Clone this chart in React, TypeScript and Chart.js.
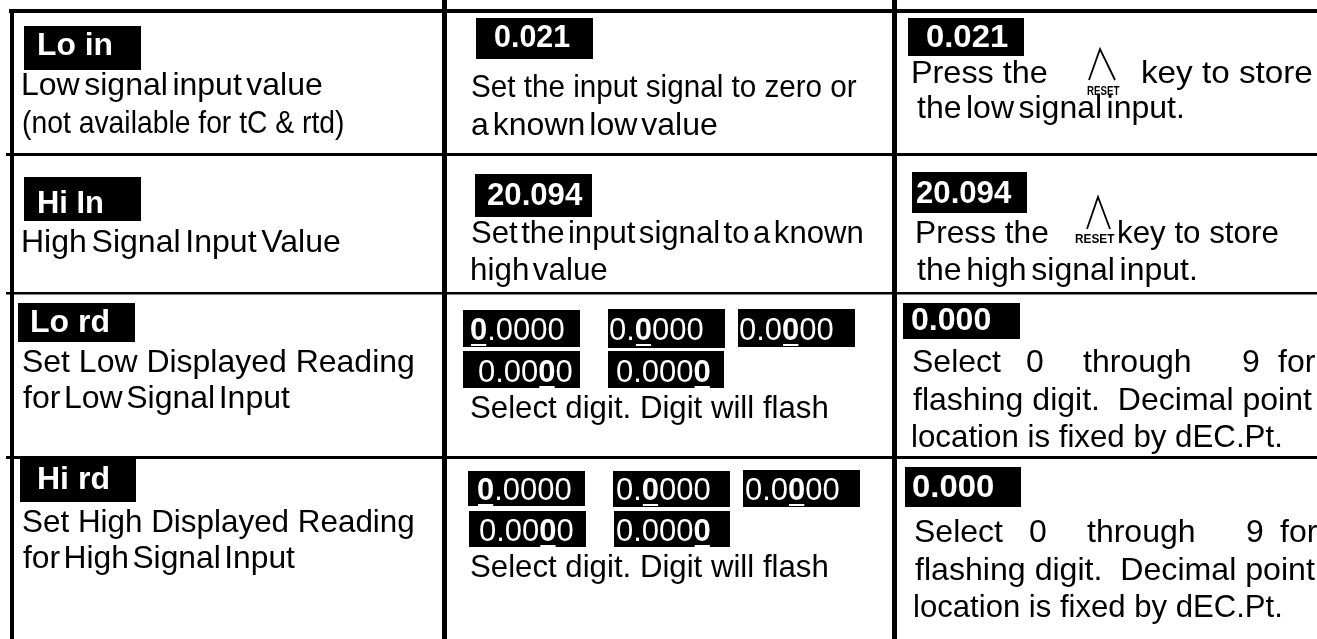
import React, { useEffect, useRef } from 'react';
import { Chart, registerables } from 'chart.js';

Chart.register(...registerables);

// ---------- content (data) ----------
const parameterCodes = ['Lo in', 'Hi In', 'Lo rd', 'Hi rd'];
const parameterDescriptions = [
  ['Low signal input value', '(not available for tC & rtd)'],
  ['High Signal Input Value'],
  ['Set Low Displayed Reading', 'for Low Signal Input'],
  ['Set High Displayed Reading', 'for High Signal Input'],
];
const inputReadings = ['0.021', '20.094'];
const inputInstructions = [
  ['Set the input signal to zero or', 'a known low value'],
  ['Set the input signal to a known', 'high value'],
  ['Select digit. Digit will flash'],
  ['Select digit. Digit will flash'],
];
const digitTemplate = '0.0000';
const flashingDigitIndexes = [0, 2, 3, 4, 5];
const storedReadings = ['0.021', '20.094', '0.000', '0.000'];
const keyName = 'RESET';
const storeSentenceParts = ['Press the', 'key to store'];
const storeTargets = ['the low signal input.', 'the high signal input.'];
const selectWords = ['Select', '0', 'through', '9', 'for'];
const selectFollowLines = ['flashing digit.  Decimal point', 'location is fixed by dEC.Pt.'];

// ---------- layout (positions / sizes) ----------
const CANVAS_W = 1317;
const CANVAS_H = 639;
const FONT = "'Liberation Sans', Arial, sans-serif";

const gridLayout = {
  top: { x: 9, y: 9, h: 4 },
  left: { x: 10, w: 4, y: 9 },
  cols: [{ x: 442, w: 5 }, { x: 892, w: 5 }],
  rows: [{ y: 153, h: 3 }, { y: 292, h: 2.5 }, { y: 456, h: 3 }],
  rowX0: 6,
};

// line layout: [x, baseline, inkWidth, tightWordSpacing(1) | scaledGlyphs(0)]
const col1Layout = [
  { box: [24, 26, 117, 44], code: [39, 55, 73], lines: [[23, 95, 299, 1], [23, 133, 320, 0]] },
  { box: [24, 177, 117, 44], code: [39, 213, 64], lines: [[23, 252, 317, 1]] },
  { box: [18, 303, 117, 39], code: [32, 332, 76], lines: [[23, 372, 390, 0], [23, 408, 267, 1]] },
  { box: [20, 458, 116, 44], code: [39, 489, 69], lines: [[23, 532, 390, 0], [23, 568, 272, 1]] },
];

const col2Layout = [
  { box: [476, 18, 117, 41], reading: [495, 47, 75], lines: [[472, 97, 385, 0], [472, 135, 245, 1]] },
  { box: [475, 174, 117, 43], reading: [488, 205, 95], lines: [[472, 243, 390, 1], [472, 280, 135, 1]] },
  {
    digitBoxes: [
      { x: 463, y: 310, w: 117, h: 37, tx: 470, ty: 340 },
      { x: 608, y: 309, w: 117, h: 39, tx: 609, ty: 340 },
      { x: 738, y: 309, w: 117, h: 38, tx: 739, ty: 340 },
      { x: 463, y: 351, w: 117, h: 37, tx: 478, ty: 382 },
      { x: 608, y: 351, w: 116, h: 37, tx: 616, ty: 382 },
    ],
    lines: [[471, 418, 356, 0]],
  },
  {
    digitBoxes: [
      { x: 468, y: 471, w: 117, h: 35, tx: 477, ty: 500 },
      { x: 613, y: 471, w: 117, h: 36, tx: 616, ty: 500 },
      { x: 743, y: 470, w: 117, h: 37, tx: 745, ty: 500 },
      { x: 469, y: 511, w: 117, h: 36, tx: 479, ty: 541 },
      { x: 614, y: 511, w: 116, h: 36, tx: 616, ty: 541 },
    ],
    lines: [[471, 577, 356, 0]],
  },
];

const col3KeyLayout = [
  {
    box: [908, 18, 116, 38], reading: [927, 47, 81],
    press: [913, 83, 134], caret: [1100, 49, 1089, 1115, 80],
    reset: [1087, 95, 33], key: [1143, 83, 169], line2: [917, 118, 265],
  },
  {
    box: [912, 172, 115, 41], reading: [917, 203, 95],
    press: [917, 243, 131], caret: [1098, 197, 1087, 1110, 229],
    reset: [1075, 243, 40], key: [1119, 243, 159], line2: [917, 280, 278],
  },
];

const col3SelectLayout = [
  {
    box: [903, 303, 117, 36], reading: [912, 330, 78],
    wordsX: [913, 1027, 1083, 1243, 1278], wordsY: 372,
    lines: [[913, 410, 399], [913, 447, 367]],
  },
  {
    box: [905, 467, 116, 40], reading: [913, 497, 80],
    wordsX: [915, 1030, 1087, 1247, 1280], wordsY: 542,
    lines: [[915, 580, 400], [915, 617, 365]],
  },
];

// ---------- drawing plugin ----------
const tablePlugin = {
  id: 'manualTable',
  beforeDraw(chart: any) {
    const { ctx } = chart;
    ctx.save();
    ctx.fillStyle = '#ffffff';
    ctx.fillRect(0, 0, chart.width, chart.height);
    ctx.restore();
  },
  afterDraw(chart: any) {
    const ctx: CanvasRenderingContext2D = chart.ctx;
    const xs = chart.scales.x;
    const ys = chart.scales.y;
    const px = (v: number) => xs.getPixelForValue(v);
    const py = (v: number) => ys.getPixelForValue(v);

    const rect = (x: number, y: number, w: number, h: number, color: string) => {
      const x0 = px(x);
      const y0 = py(y);
      ctx.fillStyle = color;
      ctx.fillRect(x0, y0, px(x + w) - x0, py(y + h) - y0);
    };

    // text fitted so its ink spans [x, x+w]
    const fitText = (text: string, x: number, y: number, w: number, font: string, color: string) => {
      ctx.save();
      ctx.font = font;
      ctx.fillStyle = color;
      ctx.textAlign = 'left';
      ctx.textBaseline = 'alphabetic';
      const m = ctx.measureText(text);
      const ink = m.actualBoundingBoxLeft + m.actualBoundingBoxRight;
      const target = px(x + w) - px(x);
      const s = ink > 0 ? target / ink : 1;
      ctx.translate(px(x) + m.actualBoundingBoxLeft * s, py(y));
      ctx.scale(s, 1);
      ctx.fillText(text, 0, 0);
      ctx.restore();
    };

    // text fitted by tightening the word gaps first (as in the original print)
    const tightText = (text: string, x: number, y: number, w: number, font: string, color: string) => {
      ctx.save();
      ctx.font = font;
      ctx.fillStyle = color;
      ctx.textAlign = 'left';
      ctx.textBaseline = 'alphabetic';
      const words = text.split(' ');
      const widths = words.map((wd) => ctx.measureText(wd).width);
      const first = ctx.measureText(words[0]);
      const last = ctx.measureText(words[words.length - 1]);
      const lead = first.actualBoundingBoxLeft;
      const trail = last.width - last.actualBoundingBoxRight;
      const wordsW = widths.reduce((a, b) => a + b, 0) + lead - trail;
      const target = px(x + w) - px(x);
      const gaps = words.length - 1;
      let gap = gaps > 0 ? (target - wordsW) / gaps : 0;
      let s = 1;
      const minGap = 3.5;
      if (gaps > 0 && gap < minGap) {
        gap = minGap;
        s = (target - gap * gaps) / wordsW;
      }
      let cx = px(x) + lead * s;
      ctx.translate(0, py(y));
      words.forEach((wd, i) => {
        ctx.save();
        ctx.translate(cx, 0);
        ctx.scale(s, 1);
        ctx.fillText(wd, 0, 0);
        ctx.restore();
        cx += widths[i] * s + gap;
      });
      ctx.restore();
    };

    const drawLine = (text: string, L: number[], font: string) => {
      if (L[3] === 1) tightText(text, L[0], L[1], L[2], font, '#000');
      else fitText(text, L[0], L[1], L[2], font, '#000');
    };

    const plainText = (text: string, x: number, y: number, font: string, color: string) => {
      ctx.save();
      ctx.font = font;
      ctx.fillStyle = color;
      ctx.textAlign = 'left';
      ctx.textBaseline = 'alphabetic';
      const m = ctx.measureText(text);
      ctx.fillText(text, px(x) + m.actualBoundingBoxLeft, py(y));
      ctx.restore();
    };

    const regular = `32px ${FONT}`;
    const boldLabel = `bold 31px ${FONT}`;

    // ---- grid ----
    const g = gridLayout;
    rect(g.top.x, g.top.y, CANVAS_W - g.top.x, g.top.h, '#000');
    rect(g.left.x, g.left.y, g.left.w, CANVAS_H - g.left.y, '#000');
    g.cols.forEach((c) => rect(c.x, 0, c.w, CANVAS_H, '#000'));
    g.rows.forEach((r) => rect(g.rowX0, r.y, CANVAS_W - g.rowX0, r.h, '#000'));

    // ---- column 1: parameter code + description ----
    col1Layout.forEach((L, i) => {
      const [bx, by, bw, bh] = L.box;
      rect(bx, by, bw, bh, '#000');
      fitText(parameterCodes[i], L.code[0], L.code[1], L.code[2], boldLabel, '#fff');
      parameterDescriptions[i].forEach((line, j) => drawLine(line, L.lines[j], regular));
    });

    // ---- column 2 ----
    col2Layout.forEach((L: any, i) => {
      if (L.box) {
        const [bx, by, bw, bh] = L.box;
        rect(bx, by, bw, bh, '#000');
        fitText(inputReadings[i], L.reading[0], L.reading[1], L.reading[2], boldLabel, '#fff');
      }
      if (L.digitBoxes) {
        L.digitBoxes.forEach((b: any, k: number) => {
          rect(b.x, b.y, b.w, b.h, '#000');
          const flashIdx = flashingDigitIndexes[k];
          let cx = px(b.tx);
          ctx.save();
          ctx.fillStyle = '#fff';
          ctx.textBaseline = 'alphabetic';
          for (let c = 0; c < digitTemplate.length; c++) {
            const ch = digitTemplate[c];
            ctx.font = c === flashIdx ? `bold 31px ${FONT}` : `31px ${FONT}`;
            const adv = ctx.measureText(ch).width;
            ctx.fillText(ch, cx, py(b.ty));
            if (c === flashIdx) {
              ctx.fillRect(cx + 1, py(b.ty + 4), adv - 2, py(b.ty + 6) - py(b.ty + 4));
            }
            cx += adv;
          }
          ctx.restore();
        });
      }
      inputInstructions[i].forEach((line, j) => drawLine(line, L.lines[j], regular));
    });

    // ---- column 3: store with key ----
    col3KeyLayout.forEach((L, i) => {
      const [bx, by, bw, bh] = L.box;
      rect(bx, by, bw, bh, '#000');
      fitText(storedReadings[i], L.reading[0], L.reading[1], L.reading[2], boldLabel, '#fff');
      fitText(storeSentenceParts[0], L.press[0], L.press[1], L.press[2], regular, '#000');
      fitText(storeSentenceParts[1], L.key[0], L.key[1], L.key[2], regular, '#000');
      tightText(storeTargets[i], L.line2[0], L.line2[1], L.line2[2], regular, '#000');
      // key glyph
      const [ax, ay, lx, rx, fy] = L.caret;
      ctx.save();
      ctx.strokeStyle = '#000';
      ctx.lineWidth = 1.8;
      ctx.lineJoin = 'miter';
      ctx.beginPath();
      ctx.moveTo(px(lx), py(fy));
      ctx.lineTo(px(ax), py(ay));
      ctx.lineTo(px(rx), py(fy));
      ctx.stroke();
      ctx.restore();
      fitText(keyName, L.reset[0], L.reset[1], L.reset[2], `bold 12px ${FONT}`, '#000');
    });

    // ---- column 3: select digit value ----
    col3SelectLayout.forEach((L, k) => {
      const i = k + 2;
      const [bx, by, bw, bh] = L.box;
      rect(bx, by, bw, bh, '#000');
      fitText(storedReadings[i], L.reading[0], L.reading[1], L.reading[2], boldLabel, '#fff');
      selectWords.forEach((w, j) => plainText(w, L.wordsX[j], L.wordsY, regular, '#000'));
      selectFollowLines.forEach((line, j) => {
        const [lx, ly, lw] = L.lines[j];
        fitText(line, lx, ly, lw, regular, '#000');
      });
    });
  },
};

export default function App() {
  const canvasRef = useRef<HTMLCanvasElement | null>(null);

  useEffect(() => {
    if (!canvasRef.current) return;
    const chart = new Chart(canvasRef.current, {
      type: 'scatter',
      data: { datasets: [{ data: [], pointRadius: 0 }] },
      options: {
        animation: false,
        responsive: false,
        devicePixelRatio: 1,
        layout: { padding: 0 },
        events: [],
        plugins: { legend: { display: false }, tooltip: { enabled: false }, title: { display: false } },
        scales: {
          x: { type: 'linear', min: 0, max: CANVAS_W, display: false },
          y: { type: 'linear', min: 0, max: CANVAS_H, reverse: true, display: false },
        },
      },
      plugins: [tablePlugin],
    } as any);
    return () => chart.destroy();
  }, []);

  return (
    <div style={{ position: 'absolute', left: 0, top: 0, width: CANVAS_W, height: CANVAS_H, background: '#fff' }}>
      <canvas ref={canvasRef} width={CANVAS_W} height={CANVAS_H} style={{ display: 'block' }} />
    </div>
  );
}
